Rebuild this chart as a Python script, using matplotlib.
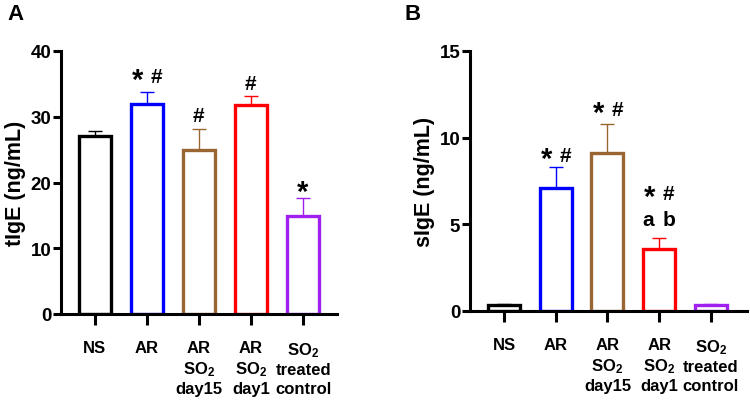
import numpy as np
import matplotlib
matplotlib.use("Agg")
import matplotlib.pyplot as plt

plt.rcParams['font.family'] = ['Liberation Sans', 'DejaVu Sans']
plt.rcParams['font.weight'] = 'bold'
plt.rcParams['mathtext.fontset'] = 'custom'
plt.rcParams['mathtext.rm'] = 'Liberation Sans:bold'
plt.rcParams['mathtext.it'] = 'Liberation Sans:bold'
plt.rcParams['mathtext.bf'] = 'Liberation Sans:bold'

# data
groups = ["NS", "AR", "AR\nSO$_2$\nday15", "AR\nSO$_2$\nday1", "SO$_2$\ntreated\ncontrol"]
colors = ["black", "#0000FF", "#996633", "#FF0000", "#A020F0"]
tige_mean = [27.1, 31.9, 24.9, 31.8, 14.9]
tige_top = [27.8, 33.7, 28.1, 33.1, 17.6]
sige_mean = [0.35, 7.1, 9.1, 3.55, 0.35]
sige_top = [0.42, 8.3, 10.8, 4.2, 0.42]
# marks above bars: (bar index, star, hash)
tige_marks = [(1, True, True), (2, False, True), (3, False, True), (4, True, False)]
sige_marks = [(1, True, True), (2, True, True), (3, True, True)]

fig = plt.figure(figsize=(7.5, 4.02), dpi=100)
axA = fig.add_axes([61/750, 87/402, 276/750, 263/402])
axB = fig.add_axes([470/750, 90/402, 277/750, 260/402])


def draw(ax, means, tops, ymax, step, ylabel, xlim):
    x = np.arange(len(means))
    for i in range(len(means)):
        ax.errorbar(x[i], means[i], yerr=[[0], [tops[i] - means[i]]], fmt='none',
                    ecolor=colors[i], elinewidth=1.0, capsize=5, capthick=1.0, zorder=1)
        ax.bar(x[i], means[i], width=0.62, facecolor='white', edgecolor=colors[i],
               linewidth=2.4, zorder=2)
    ax.set_xlim(*xlim)
    ax.set_ylim(0, ymax)
    ax.set_yticks(np.arange(0, ymax + 0.1, step))
    ax.set_xticks(x)
    ax.set_xticklabels(groups, fontsize=12, fontweight='bold', linespacing=1.28)
    ax.set_ylabel(ylabel, fontsize=15.5, fontweight='bold', labelpad=3)
    for s in ['top', 'right']:
        ax.spines[s].set_visible(False)
    for s in ['left', 'bottom']:
        ax.spines[s].set_linewidth(2.2)
    ax.tick_params(axis='y', width=2.2, length=6, labelsize=13.5, pad=1)
    ax.tick_params(axis='x', width=2.2, length=8, pad=11)
    for lab in ax.get_yticklabels():
        lab.set_fontweight('bold')


def put(ax, x, y, s, size, frac):
    # place glyph so that its visual centre sits at y (frac = centre height in em)
    ax.annotate(s, (x, y), xytext=(0, -frac * size), textcoords='offset points',
                fontsize=size, ha='center', va='baseline')


def marks(ax, items, ys):
    for (i, star, hsh), y in zip(items, ys):
        xs = i - 0.18 if (star and hsh) else i
        xh = i + 0.19 if (star and hsh) else i
        if star:
            put(ax, xs, y, "$*$", 21, 0.42)
        if hsh:
            put(ax, xh, y, r"$\#$", 15, 0.35)


draw(axA, tige_mean, tige_top, 40, 10, "tIgE (ng/mL)", (-0.65, 4.65))
draw(axB, sige_mean, sige_top, 15, 5, "sIgE (ng/mL)", (-0.66, 4.70))

marks(axA, tige_marks, [36.35, 30.4, 35.4, 19.3])
marks(axB, sige_marks, [9.06, 11.71, 6.87])
axB.text(3 - 0.2, 4.98, "$a$", fontsize=15, ha='center', va='baseline')
axB.text(3 + 0.2, 4.98, "$b$", fontsize=15, ha='center', va='baseline')

fig.text(7/750, 1 - 15/402, "A", fontsize=16, fontweight='bold', ha='left', va='center')
fig.text(405/750, 1 - 15/402, "B", fontsize=16, fontweight='bold', ha='left', va='center')

fig.savefig("out.png", dpi=100)
